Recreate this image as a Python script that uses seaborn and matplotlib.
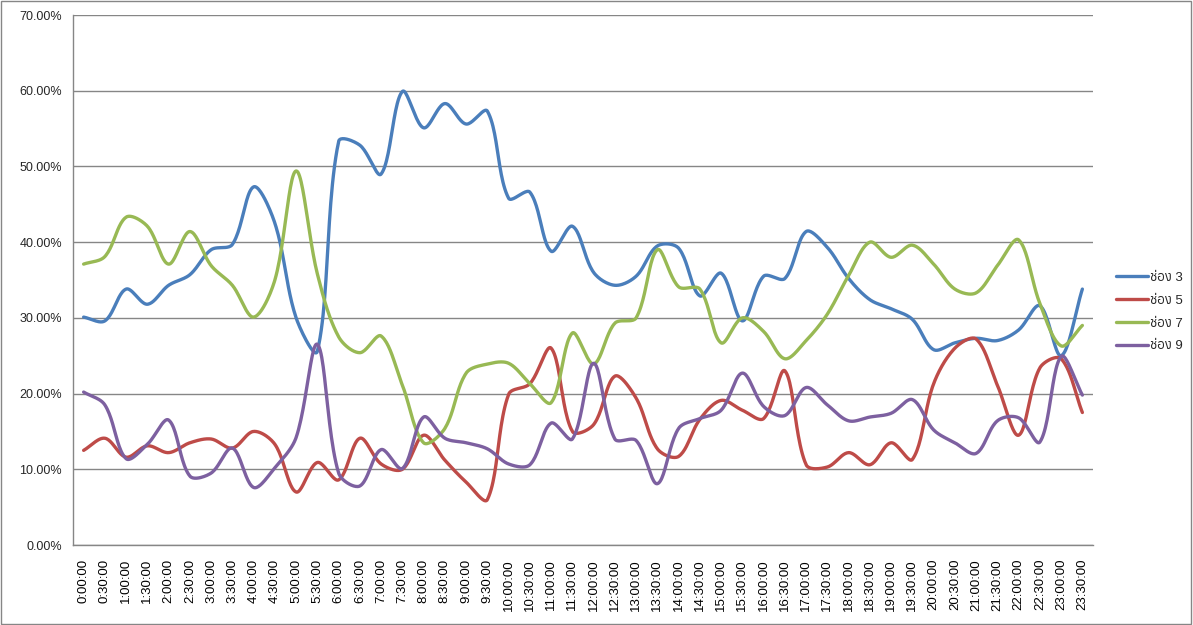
import numpy as np
import pandas as pd
import matplotlib
matplotlib.use('Agg')
import matplotlib.pyplot as plt
import seaborn as sns
from matplotlib import font_manager as fm
from matplotlib.patches import Rectangle
from matplotlib.ticker import FuncFormatter

# x categories: every half hour
times = [f"{h}:{m:02d}:00" for h in range(24) for m in (0, 30)]

ch3 = [30.1, 29.6, 33.8, 31.8, 34.3, 35.7, 39.0, 39.7, 47.3, 42.5,
       30.0, 25.6, 53.3, 52.8, 49.0, 59.9, 55.1, 58.3, 55.6, 57.3,
       45.8, 46.6, 38.8, 42.1, 36.0, 34.3, 35.5, 39.5, 39.2, 32.9,
       35.9, 29.6, 35.5, 35.2, 41.4, 39.3, 35.2, 32.4, 31.2, 29.8,
       25.8, 26.7, 27.3, 27.0, 28.4, 31.6, 25.0, 33.8]
ch5 = [12.5, 14.1, 11.6, 13.1, 12.2, 13.5, 14.0, 12.8, 15.0, 13.3,
       7.0, 10.9, 8.6, 14.1, 10.7, 10.0, 14.5, 11.2, 8.3, 6.0,
       19.9, 21.3, 26.0, 15.0, 15.9, 22.3, 19.4, 12.7, 11.7, 16.6,
       19.1, 17.8, 16.7, 23.0, 10.6, 10.3, 12.2, 10.6, 13.5, 11.3,
       21.3, 26.0, 27.2, 21.1, 14.5, 23.4, 24.6, 17.5]
ch7 = [37.1, 38.1, 43.3, 42.1, 37.1, 41.4, 36.9, 34.3, 30.1, 35.0,
       49.4, 35.8, 27.5, 25.4, 27.6, 21.1, 13.5, 15.4, 22.7, 23.9,
       24.0, 21.3, 18.8, 28.0, 23.9, 29.3, 30.0, 39.0, 34.1, 33.8,
       26.7, 30.0, 28.2, 24.6, 27.0, 30.5, 35.6, 40.0, 38.0, 39.6,
       37.1, 33.8, 33.3, 36.9, 40.3, 31.9, 26.3, 29.0]
ch9 = [20.2, 18.5, 11.4, 13.3, 16.5, 9.1, 9.5, 12.8, 7.6, 10.2,
       14.2, 26.5, 9.5, 7.8, 12.6, 10.1, 16.9, 14.1, 13.5, 12.7,
       10.7, 10.6, 16.1, 14.0, 24.0, 14.0, 13.8, 8.1, 15.4, 16.7,
       17.8, 22.7, 18.3, 17.1, 20.8, 18.5, 16.4, 16.9, 17.4, 19.2,
       15.2, 13.5, 12.1, 16.4, 16.8, 13.6, 24.9, 19.8]

series_names = ['ช่อง 3', 'ช่อง 5', 'ช่อง 7', 'ช่อง 9']
series_vals = [ch3, ch5, ch7, ch9]
colors = ['#4A7EBB', '#BE4B48', '#98B954', '#7D60A0']


def find_thai_font():
    # look for any installed font that has Thai glyphs
    try:
        from fontTools.ttLib import TTFont
    except ImportError:
        return None
    for f in sorted(fm.fontManager.ttflist, key=lambda f: f.name):
        try:
            cmap = TTFont(f.fname, fontNumber=0, lazy=True).getBestCmap()
        except Exception:
            continue
        if cmap and 0x0E0A in cmap and 0x0E48 in cmap:
            return f.name
    return None


def smooth(vals, n=24, sx=21.25, sy=7.57):
    # smoothed line: bezier, tangent split by segment length on screen
    y = np.asarray(vals, float)
    x = np.arange(len(y), dtype=float)
    p = np.column_stack([x, y])
    p = np.vstack([p[0], p, p[-1]])
    scr = p * [sx, sy]
    d = np.hypot(*np.diff(scr, axis=0).T)
    t = np.linspace(0, 1, n, endpoint=False)[:, None]
    out = []
    for i in range(1, len(p) - 2):
        p0, p1, p2, p3 = p[i - 1], p[i], p[i + 1], p[i + 2]
        d0, d1, d2 = d[i - 1], d[i], d[i + 1]
        k1 = d1 / (d0 + d1) / 3 if d0 + d1 > 0 else 0
        k2 = d1 / (d1 + d2) / 3 if d1 + d2 > 0 else 0
        c1 = p1 + (p2 - p0) * k1
        c2 = p2 - (p3 - p1) * k2
        seg = ((1 - t) ** 3) * p1 + 3 * ((1 - t) ** 2) * t * c1 + 3 * (1 - t) * t ** 2 * c2 + t ** 3 * p2
        out.append(seg)
    out.append(p[-2][None, :])
    out = np.vstack(out)
    return out[:, 0], out[:, 1]


sns.set_style('white')
thai = find_thai_font()
plt.rcParams['font.family'] = ['Liberation Sans', thai] if thai else ['Liberation Sans', 'DejaVu Sans']

rows = []
for name, vals in zip(series_names, series_vals):
    xs, ys = smooth(vals)
    rows.append(pd.DataFrame({'x': xs, 'y': ys, 'series': name}))
df = pd.concat(rows, ignore_index=True)

fig = plt.figure(figsize=(11.93, 6.25), dpi=100)
fig.patches.append(Rectangle((0.0005, 0.001), 0.998, 0.997, transform=fig.transFigure,
                             fill=False, ec='#868686', lw=1))
ax = fig.add_axes([73 / 1193, 1 - 545 / 625, 1020 / 1193, 530 / 625])

sns.lineplot(data=df, x='x', y='y', hue='series', palette=colors, sort=False,
             estimator=None, lw=2.4, ax=ax)

ax.set_xlim(-0.5, len(times) - 0.5)
ax.set_ylim(0, 70)
ax.set_yticks(np.arange(0, 71, 10))
ax.yaxis.set_major_formatter(FuncFormatter(lambda v, _: f"{v:.2f}%"))
ax.set_xticks(range(len(times)))
ax.set_xticklabels(times, rotation=90)
ax.set_xticks(np.arange(-0.5, len(times), 1), minor=True)
ax.tick_params(axis='x', which='major', length=0, pad=10, labelsize=9.5, colors='black')
ax.tick_params(axis='x', which='minor', length=5, direction='out', color='#868686')
ax.tick_params(axis='y', length=5, direction='out', color='#868686', labelsize=9, pad=3)
ax.yaxis.grid(True, color='#868686', lw=1)
ax.xaxis.grid(False)
ax.set_axisbelow(True)
for s in ['top', 'right']:
    ax.spines[s].set_visible(False)
for s in ['left', 'bottom']:
    ax.spines[s].set_color('#868686')
    ax.spines[s].set_linewidth(1)
ax.set_xlabel('')
ax.set_ylabel('')

handles, labels = ax.get_legend_handles_labels()
ax.legend_.remove()
fig.legend(handles, labels, loc='center left', bbox_to_anchor=(1104 / 1193, 1 - 312 / 625),
           frameon=False, fontsize=9.5, handlelength=2.4, handletextpad=0.15, labelspacing=0.8)

fig.savefig('out.png', dpi=100)
